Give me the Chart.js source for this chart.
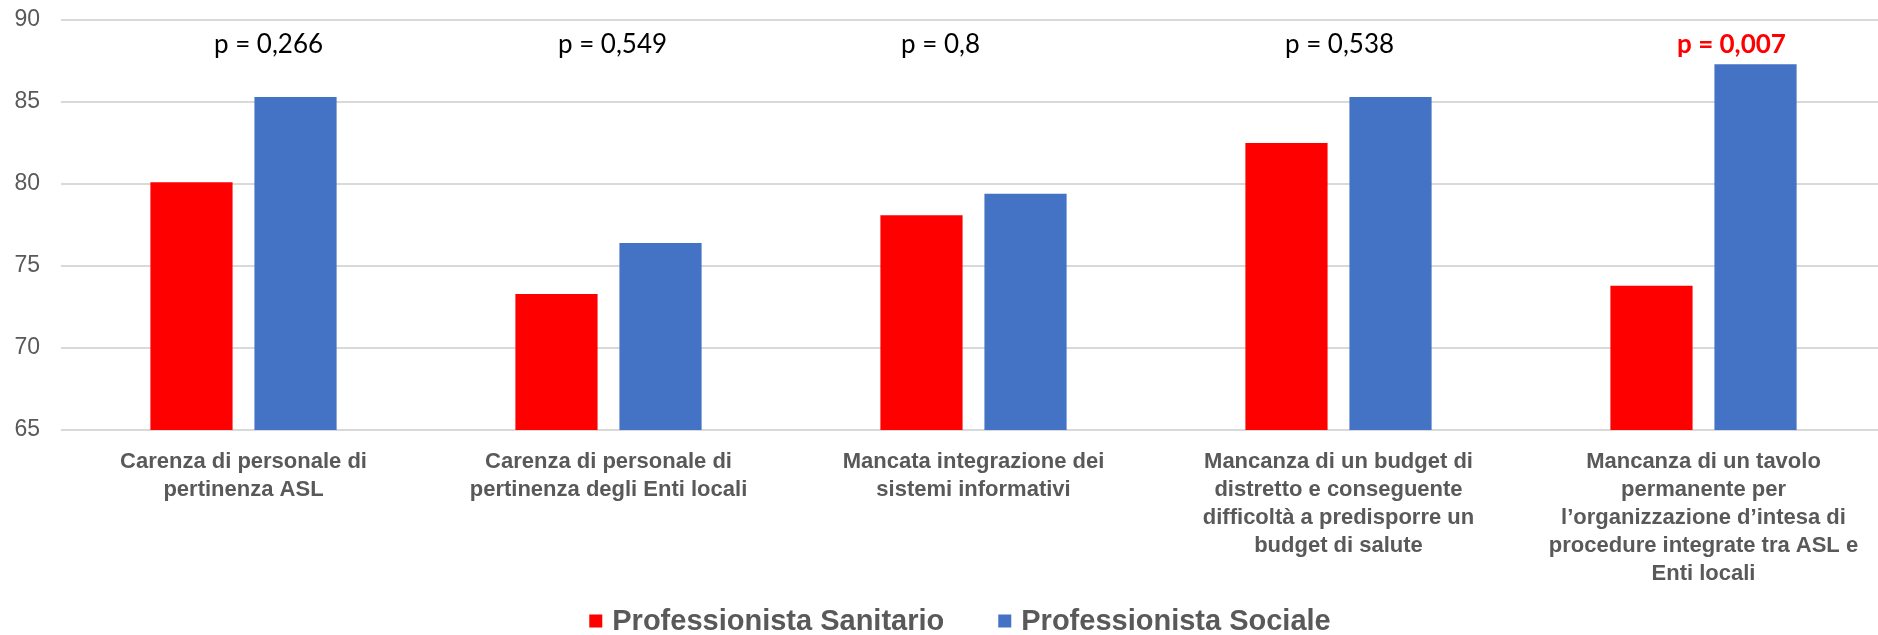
<!DOCTYPE html>
<html>
<head>
<meta charset="utf-8">
<script src="https://cdn.jsdelivr.net/npm/chart.js@4/dist/chart.umd.min.js"></script>
<style>
  html, body { margin: 0; padding: 0; background: #fff; overflow: hidden; }
  #wrap { width: 1920px; height: 646px; }
</style>
</head>
<body>
<div id="wrap"><canvas id="problemiChart" width="1920" height="646"></canvas></div>
<script>
// categories (one array per wrapped label)
let categorie = [
    ['Carenza di personale di', 'pertinenza ASL'],
    ['Carenza di personale di', 'pertinenza degli Enti locali'],
    ['Mancata integrazione dei', 'sistemi informativi'],
    ['Mancanza di un budget di', 'distretto e conseguente', 'difficoltà a predisporre un', 'budget di salute'],
    ['Mancanza di un tavolo', 'permanente per', 'l\u2019organizzazione d\u2019intesa di', 'procedure integrate tra ASL e', 'Enti locali']
];

let sanitario = [80.1, 73.3, 78.1, 82.5, 73.8];
let sociale = [85.3, 76.4, 79.4, 85.3, 87.3];

// p-values written above each group
let pValori = ['p = 0,266', 'p = 0,549', 'p = 0,8', 'p = 0,538', 'p = 0,007'];
let pSignificativo = [false, false, false, false, true];

let yTicks = [65, 70, 75, 80, 85, 90];

// small horizontal nudge of each p label from its group centre
let pShift = [25, 4, -33, 1, 28];

const grigio = '#595959';

const pLabels = {
    id: 'pLabels',
    afterDatasetsDraw(chart) {
        const ctx = chart.ctx;
        const x = chart.scales.x;
        const y = chart.scales.y;
        ctx.save();
        ctx.textAlign = 'center';
        ctx.textBaseline = 'middle';
        pValori.forEach((txt, i) => {
            if (pSignificativo[i]) {
                ctx.font = 'bold 26px Lato';
                ctx.fillStyle = '#ff0000';
            } else {
                ctx.font = '26px Lato';
                ctx.fillStyle = '#000000';
            }
            ctx.fillText(txt, x.getPixelForValue(i) + pShift[i], y.getPixelForValue(90) + 25);
        });
        ctx.restore();
    }
};

// legend drawn by hand: Chart.js ties item spacing to the vertical padding
const legendaBasso = {
    id: 'legendaBasso',
    afterDraw(chart) {
        const ctx = chart.ctx;
        const box = 13, gapTesto = 10, gapVoci = 54;
        const yMid = 621;
        ctx.save();
        ctx.font = 'bold 29px "Liberation Sans"';
        ctx.textBaseline = 'middle';
        ctx.textAlign = 'left';
        const voci = chart.data.datasets.map(ds => ({
            testo: ds.label,
            colore: ds.backgroundColor,
            w: ctx.measureText(ds.label).width
        }));
        let totale = 0;
        voci.forEach((v, i) => {
            totale += box + gapTesto + v.w + (i > 0 ? gapVoci : 0);
        });
        let x = chart.width / 2 - totale / 2;
        voci.forEach(v => {
            ctx.fillStyle = v.colore;
            ctx.fillRect(x, yMid - box / 2, box, box);
            ctx.fillStyle = grigio;
            ctx.fillText(v.testo, x + box + gapTesto, yMid + 1);
            x += box + gapTesto + v.w + gapVoci;
        });
        ctx.restore();
    }
};

let ctx = document.getElementById('problemiChart').getContext('2d');

var chart = new Chart(ctx, {
    type: 'bar',
    data: {
        labels: categorie,
        datasets: [{
            label: 'Professionista Sanitario',
            backgroundColor: '#ff0000',
            data: sanitario,
            categoryPercentage: 0.57,
            barPercentage: 0.79
        }, {
            label: 'Professionista Sociale',
            backgroundColor: '#4472c4',
            data: sociale,
            categoryPercentage: 0.57,
            barPercentage: 0.79
        }]
    },
    options: {
        responsive: false,
        animation: false,
        layout: {
            padding: { top: 20, right: 34, left: 0, bottom: 0 }
        },
        plugins: {
            legend: { display: false },
            tooltip: { enabled: false }
        },
        scales: {
            x: {
                grid: { display: false, drawTicks: false },
                border: { display: false },
                ticks: {
                    color: grigio,
                    padding: 18,
                    maxRotation: 0,
                    autoSkip: false,
                    font: { family: 'Liberation Sans', size: 22, weight: 'bold', lineHeight: 1.27 }
                },
                afterFit(scale) { scale.height = 216; }
            },
            y: {
                min: 65,
                max: 90,
                afterBuildTicks(scale) { scale.ticks = yTicks.map(v => ({ value: v })); },
                grid: { color: '#d9d9d9', lineWidth: 2, drawTicks: false },
                border: { display: false },
                ticks: {
                    color: grigio,
                    padding: 21,
                    font: { family: 'Liberation Sans', size: 23 }
                },
                afterFit(scale) {
                    scale.width = 61;
                    scale.paddingTop = 0;
                    scale.paddingBottom = 0;
                }
            }
        }
    },
    plugins: [pLabels, legendaBasso]
});
</script>
</body>
</html>
